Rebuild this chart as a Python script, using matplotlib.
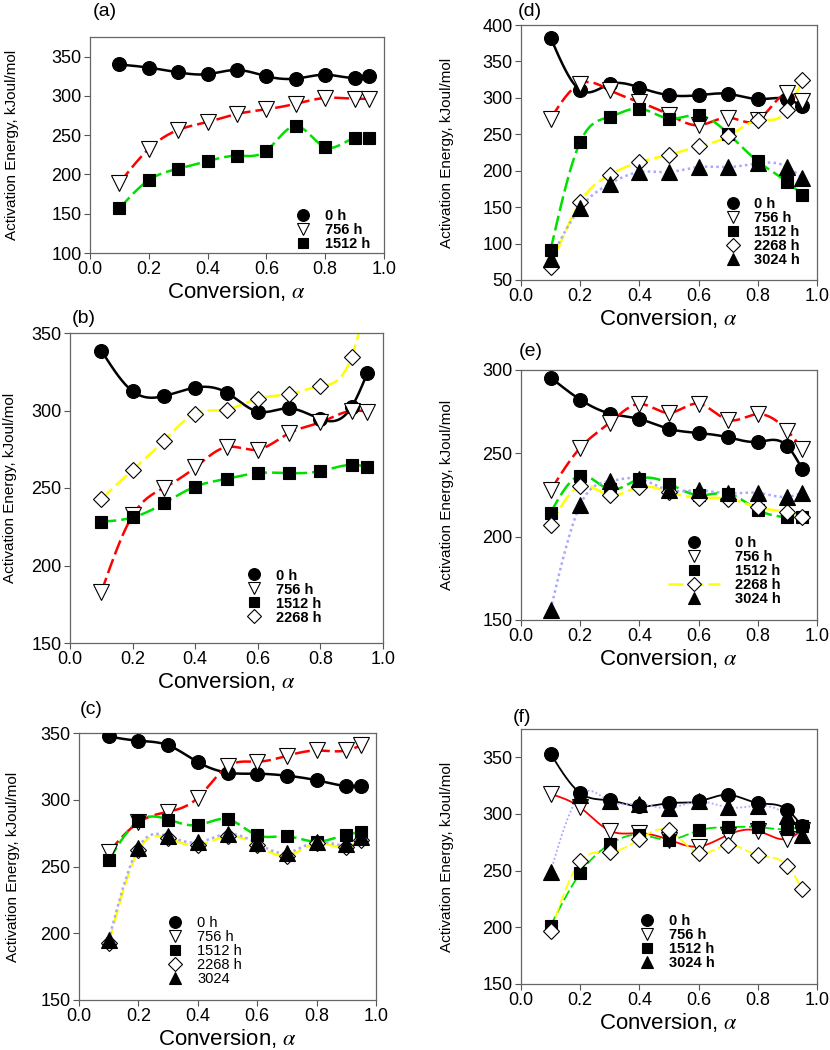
import numpy as np
import matplotlib
matplotlib.use("Agg")
import matplotlib.pyplot as plt
from matplotlib.lines import Line2D

plt.rcParams['font.family'] = ['Liberation Sans', 'DejaVu Sans']
plt.rcParams['mathtext.fontset'] = 'stix'

# conversion values (same for all panels)
alpha = [0.1, 0.2, 0.3, 0.4, 0.5, 0.6, 0.7, 0.8, 0.9, 0.95]

# (a)
a_0h = [340, 336, 330, 327.7, 333, 325, 322, 327, 323, 325.6]
a_756h = [189, 232.5, 256.7, 266.8, 277, 283, 290, 297.4, 296.4, 296.4]
a_1512h = [156.7, 192.8, 207.3, 217, 223.8, 230.3, 261.7, 234.7, 246.2, 245.9]

# (b)
b_0h = [338.7, 312.4, 309.3, 314.8, 311.6, 299.3, 301.4, 294.5, 302.4, 324.2]
b_756h = [182.9, 232.3, 250.1, 263.3, 276.4, 274.8, 285.4, 292.4, 299.8, 299.3]
b_1512h = [228.3, 231, 240.1, 250.9, 255.9, 259.6, 259.6, 260.9, 264.9, 263.8]
b_2268h = [242.8, 261.7, 280.4, 298, 300.6, 307.7, 310.6, 315.8, 334.8, 372]

# (c)
c_0h = [347.4, 344.2, 340.8, 328.2, 320.3, 319.5, 318, 314.6, 310.4, 310.4]
c_756h = [260.7, 283, 291, 301.4, 325, 328.5, 332.9, 336.9, 336.9, 340.8]
c_1512h = [254.7, 284.1, 285.2, 281, 285.4, 273.4, 272.6, 268.6, 273.9, 275.7]
c_2268h = [192.5, 262.1, 271.2, 266, 272.8, 266, 258.1, 267.3, 264.7, 270]
c_3024 = [195.1, 264.2, 272.6, 268.1, 274.4, 267.3, 260.2, 268.6, 266.5, 271.8]

# (d)
d_0h = [382.6, 310.6, 318.8, 314.2, 303.7, 303.7, 305.5, 298.2, 298.2, 288.5]
d_756h = [271.6, 319.7, 310.6, 294, 277, 262.4, 272.9, 269.3, 306, 295.4]
d_1512h = [91.3, 239.5, 273.9, 285.3, 271.6, 276.2, 250.9, 212.9, 184.4, 167]
d_2268h = [67.4, 156.9, 194.5, 211.9, 222, 233.5, 247.3, 269.3, 283, 324.3]
d_3024h = [78.9, 149.1, 182.1, 198.2, 198.2, 205.1, 205.1, 210, 205.1, 189.9]

# (e)
e_0h = [295.5, 282.2, 273.9, 270.6, 264.7, 262.2, 259.6, 256.9, 254.3, 240.6]
e_756h = [227.8, 253.3, 268.4, 279.6, 274.3, 279.8, 270, 273.5, 263.5, 252.9]
e_1512h = [214.5, 236.7, 228.4, 234.7, 231.8, 224.9, 225.9, 216.1, 211.8, 211.8]
e_2268h = [207.2, 230.4, 224.9, 229.8, 226.9, 223.3, 222.9, 217.6, 214.7, 212.1]
e_3024h = [156.3, 219, 233.3, 234.7, 227.8, 227.8, 226, 226.3, 223.9, 226.3]

# (f)
f_0h = [353.2, 318.5, 312, 306.7, 309.6, 311.1, 317, 309.6, 303.7, 289]
f_756h = [317.6, 305.8, 285.2, 283.1, 277.2, 271.3, 281.7, 285.2, 278.1, 286]
f_1512h = [201.5, 247.8, 273.4, 281.7, 277.2, 285.5, 288.4, 288.4, 286.7, 289]
f_2268h = [196.8, 258.1, 266.3, 277.8, 285.5, 265.5, 272.8, 263.4, 254.3, 233.9]
f_3024h = [249.2, 317, 311.1, 308.8, 305.2, 311.1, 305.8, 307.3, 297.9, 281.7]

W, H = 830, 1050


def spline(x, y, n=300):
    # natural cubic spline through the points (like SigmaPlot's spline curve)
    x = np.asarray(x, float)
    y = np.asarray(y, float)
    k = len(x)
    h = np.diff(x)
    A = np.zeros((k, k))
    r = np.zeros(k)
    A[0, 0] = A[-1, -1] = 1
    for i in range(1, k - 1):
        A[i, i - 1] = h[i - 1]
        A[i, i] = 2 * (h[i - 1] + h[i])
        A[i, i + 1] = h[i]
        r[i] = 3 * ((y[i + 1] - y[i]) / h[i] - (y[i] - y[i - 1]) / h[i - 1])
    c = np.linalg.solve(A, r)
    b = (y[1:] - y[:-1]) / h - h * (2 * c[:-1] + c[1:]) / 3
    d = (c[1:] - c[:-1]) / (3 * h)
    xs = np.linspace(x[0], x[-1], n)
    idx = np.clip(np.searchsorted(x, xs) - 1, 0, k - 2)
    t = xs - x[idx]
    ys = y[idx] + b[idx] * t + c[idx] * t ** 2 + d[idx] * t ** 3
    return xs, ys


markers = {
    '0h': dict(marker='o', mfc='black', mec='black', ms=10),
    '756h': dict(marker='v', mfc='white', mec='black', ms=11),
    '1512h': dict(marker='s', mfc='black', mec='black', ms=9),
    '2268h': dict(marker='D', mfc='white', mec='black', ms=8.5),
    '3024h': dict(marker='^', mfc='black', mec='black', ms=11),
}
line_styles = {
    '0h': dict(color='black', ls='-'),
    '756h': dict(color='#ff0000', ls=(0, (6, 2))),
    '1512h': dict(color='#00e000', ls=(0, (6, 2))),
    '2268h': dict(color='#ffff00', ls=(0, (6, 2))),
    '3024h': dict(color='#a8a8ff', ls=(0, (1, 1.3))),
}


def px_axes(l, r, t, b):
    return [l / W, 1 - b / H, (r - l) / W, (b - t) / H]


def panel(rect, ylim, yticks, series, tag, tagpos, legend_at, ylab_x,
          lw=1.8, bold=True, red_solid=False, line_key=None):
    ax = fig.add_axes(px_axes(*rect))
    handles = []
    for key, label, vals in series:
        ls = dict(line_styles[key])
        if red_solid and key == '756h':
            ls['ls'] = '-'
        xs, ys = spline(alpha, vals)
        ax.plot(xs, ys, lw=lw, zorder=2, **ls)
        ax.plot(alpha, vals, ls='none', mew=0.8, zorder=3, **markers[key])
        if label is None:
            continue
        if key == line_key:
            h = Line2D([], [], lw=lw, **ls, mew=0.8, **markers[key])
        else:
            h = Line2D([], [], ls='none', mew=0.8, **markers[key])
        handles.append((h, label))
    ax.set_xlim(0, 1.0)
    ax.set_ylim(*ylim)
    ax.set_xticks([0.0, 0.2, 0.4, 0.6, 0.8, 1.0])
    ax.set_xticklabels(['0.0', '0.2', '0.4', '0.6', '0.8', '1.0'])
    ax.set_yticks(yticks)
    ax.tick_params(direction='out', length=4, width=0.8, labelsize=13,
                   color='#555555', pad=2)
    for s in ax.spines.values():
        s.set_color('#666666')
        s.set_linewidth(0.9)
    ax.set_xlabel('Conversion, $\\alpha$', fontsize=16, labelpad=1)
    ax.set_ylabel('Activation Energy, kJoul/mol', fontsize=11)
    ax.yaxis.set_label_coords(ylab_x, 0.5)
    hl = 3.6 if line_key else 1.0
    ax.legend([h for h, _ in handles], [l for _, l in handles],
              loc='upper left', bbox_to_anchor=legend_at, frameon=False,
              handlelength=hl, handletextpad=1.0, markerscale=0.85,
              labelspacing=0.0, borderpad=0, borderaxespad=0,
              prop=dict(weight='bold' if bold else 'normal', size=10.5))
    fig.text(tagpos[0] / W, 1 - tagpos[1] / H, tag, fontsize=14,
             ha='left', va='center')
    return ax


fig = plt.figure(figsize=(8.3, 10.5), dpi=100)

panel((90, 384, 37, 253), (100, 375), [100, 150, 200, 250, 300, 350],
      [('0h', '0 h', a_0h), ('756h', '756 h', a_756h),
       ('1512h', '1512 h', a_1512h)],
      '(a)', (93, 12), (0.70, 0.205), -0.24)

panel((70, 383, 333, 643), (150, 350), [150, 200, 250, 300, 350],
      [('0h', '0 h', b_0h), ('756h', '756 h', b_756h),
       ('1512h', '1512 h', b_1512h), ('2268h', '2268 h', b_2268h)],
      '(b)', (72, 318), (0.565, 0.24), -0.17)

panel((79, 376, 733, 1000), (150, 350), [150, 200, 250, 300, 350],
      [('0h', '0 h', c_0h), ('756h', '756 h', c_756h),
       ('1512h', '1512 h', c_1512h), ('2268h', '2268 h', c_2268h),
       ('3024h', '3024', c_3024)],
      '(c)', (80, 710), (0.30, 0.315), -0.2, bold=False)

panel((521, 817, 25, 280), (50, 400), [50, 100, 150, 200, 250, 300, 350, 400],
      [('0h', '0 h', d_0h), ('756h', '756 h', d_756h),
       ('1512h', '1512 h', d_1512h), ('2268h', '2268 h', d_2268h),
       ('3024h', '3024 h', d_3024h)],
      '(d)', (518, 12), (0.69, 0.325), -0.225)

panel((521, 817, 370, 620), (150, 300), [150, 200, 250, 300],
      [('0h', '0 h', e_0h), ('756h', '756 h', e_756h),
       ('1512h', '1512 h', e_1512h), ('2268h', '2268 h', e_2268h),
       ('3024h', '3024 h', e_3024h)],
      '(e)', (519, 352), (0.495, 0.335), -0.225, line_key='2268h')

panel((521, 817, 729, 984), (150, 375), [150, 200, 250, 300, 350],
      [('0h', '0 h', f_0h), ('756h', '756 h', f_756h),
       ('1512h', '1512 h', f_1512h), ('3024h', '3024 h', f_3024h),
       ('2268h', None, f_2268h)],
      '(f)', (513, 718), (0.40, 0.275), -0.225, lw=1.3, red_solid=True)

fig.savefig('out.png', dpi=100)
